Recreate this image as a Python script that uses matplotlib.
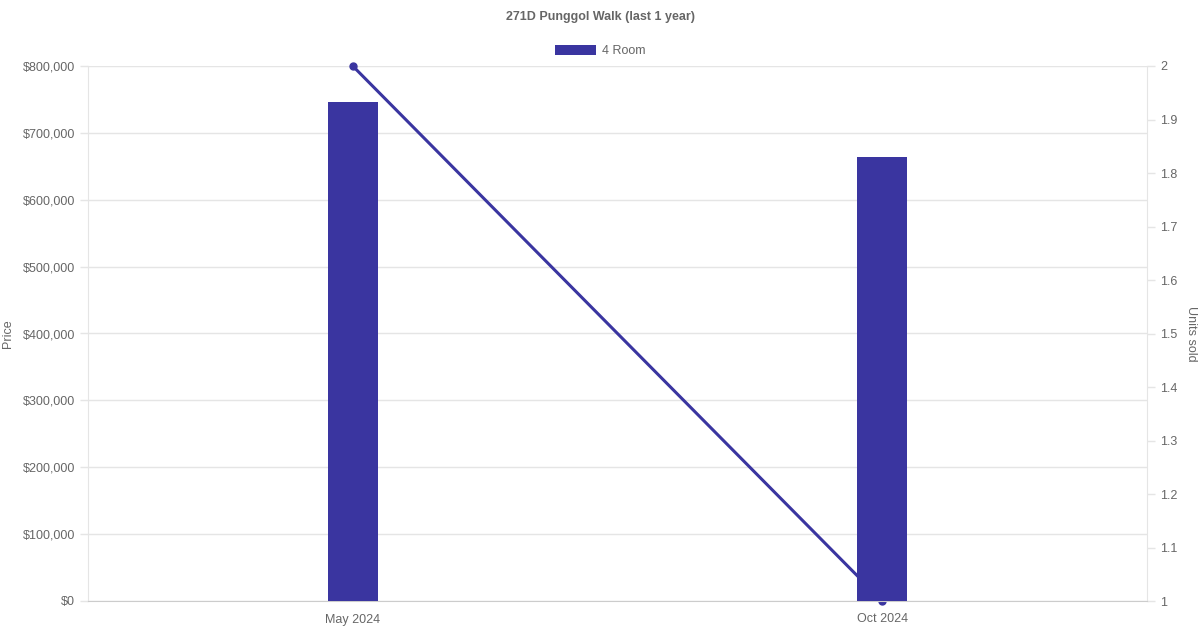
import matplotlib.pyplot as plt
from matplotlib.ticker import FuncFormatter

plt.rcParams['font.family'] = ['Liberation Sans', 'DejaVu Sans']

months = ["May 2024", "Oct 2024"]
price = [746000, 664000]
units = [2, 1]

bar_c = '#3a35a0'
txt_c = '#666666'
grid_c = '#e5e5e5'

fig = plt.figure(figsize=(12, 6.3), dpi=100)
ax = fig.add_axes([88/1200, 1-601/630, (1147-88)/1200, (601-66)/630])
ax2 = ax.twinx()
ax2.set_zorder(0)
ax.set_zorder(1)
ax.patch.set_visible(False)

x = list(range(len(months)))
ax.set_xlim(-0.5, 1.5)
ax.set_ylim(0, 800000)
ax2.set_ylim(1, 2)

ax.bar(x, price, width=0.094, color=bar_c, zorder=3, label="4 Room")
# line drawn in the bar axes but scaled by the right axis, so it sits over the grid and under the bars
ax.plot(x, units, color=bar_c, linewidth=2.2, marker='o', markersize=5,
        transform=ax2.transData, zorder=2, clip_on=False)

ax.set_yticks(range(0, 800001, 100000))
ax.yaxis.set_major_formatter(FuncFormatter(lambda v, p: "${:,.0f}".format(v)))
ax.set_xticks(x)
ax.set_xticklabels(months)
ax.grid(axis='y', color=grid_c, linewidth=1, zorder=0)
ax.set_axisbelow(True)

ax2.set_yticks([1 + i/10 for i in range(11)])
ax2.set_yticklabels(["1", "1.1", "1.2", "1.3", "1.4", "1.5", "1.6", "1.7", "1.8", "1.9", "2"])

for a in (ax, ax2):
    for s in a.spines.values():
        s.set_visible(False)
    a.tick_params(colors=grid_c, labelcolor=txt_c, labelsize=9, length=6, width=1)
ax.spines['left'].set_visible(True)
ax.spines['left'].set_color(grid_c)
ax.spines['bottom'].set_visible(True)
ax.spines['bottom'].set_color('#cccccc')
ax2.spines['right'].set_visible(True)
ax2.spines['right'].set_color(grid_c)
ax.tick_params(axis='x', length=0, pad=9)

ax.set_ylabel("Price", color=txt_c, fontsize=9, labelpad=6)
ax2.set_ylabel("Units sold", color=txt_c, fontsize=9, rotation=270, labelpad=14)

fig.suptitle("271D Punggol Walk (last 1 year)", x=0.5, y=1-17/630, va='center',
             fontsize=9, fontweight='bold', color=txt_c)
fig.legend(loc='center', bbox_to_anchor=(0.5, 1-51/630), frameon=False, fontsize=9,
           labelcolor=txt_c, handlelength=3.3, handleheight=0.9, handletextpad=0.5)

fig.savefig("out.png", dpi=100)
